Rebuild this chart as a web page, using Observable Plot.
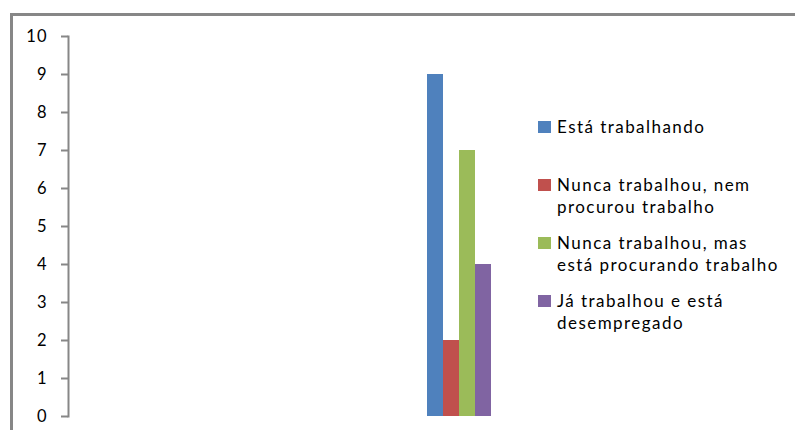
<!DOCTYPE html>
<html>
<head>
<meta charset="utf-8">
<script src="https://cdn.jsdelivr.net/npm/d3@7"></script>
<script src="https://cdn.jsdelivr.net/npm/@observablehq/plot@0.6"></script>
<style>
  body { margin: 0; background: #fff; }
  #wrap { position: relative; width: 795px; height: 430px; overflow: hidden; background: #fff; }
  #border { position: absolute; left: 10px; top: 13px; width: 900px; height: 500px; border-left: 3px solid #878787; border-top: 3px solid #878787; }
  #chart { position: absolute; left: 0; top: 0; }
  #legend { position: absolute; left: 0; top: 0; font-family: Lato, "Open Sans", sans-serif; font-size: 17px; color: #000; letter-spacing: 1.45px; }
  .item { position: absolute; left: 538px; line-height: 22px; white-space: nowrap; }
  .sw { position: absolute; left: 0; top: 5px; width: 13px; height: 12px; }
  .txt { position: absolute; left: 19px; top: 0; }
</style>
</head>
<body>
<div id="wrap">
  <div id="border"></div>
  <div id="chart"></div>
  <div id="legend"></div>
</div>
<script>
const series = ["Está trabalhando", "Nunca trabalhou, nem procurou trabalho", "Nunca trabalhou, mas está procurando trabalho", "Já trabalhou e está desempregado"];
const legendLines = [["Está trabalhando"], ["Nunca trabalhou, nem", "procurou trabalho"], ["Nunca trabalhou, mas", "está procurando trabalho"], ["Já trabalhou e está", "desempregado"]];
const values = [9, 2, 7, 4];
const colors = ["#4F81BD", "#C0504D", "#9BBB59", "#8064A2"];
const yTicks = [0, 1, 2, 3, 4, 5, 6, 7, 8, 9, 10];

const data = series.map((s, i) => ({series: s, value: values[i]}));

const chart = Plot.plot({
  width: 795,
  height: 430,
  marginLeft: 68,
  marginRight: 0,
  marginTop: 36,
  marginBottom: 14,
  style: {fontFamily: "Lato, 'Open Sans', sans-serif", fontSize: "16.5px", color: "#000", background: "transparent", letterSpacing: "1px"},
  x: {type: "band", domain: series, range: [427, 491], padding: 0, axis: null},
  y: {domain: [0, 10], ticks: yTicks},
  color: {domain: series, range: colors},
  marks: [
    Plot.barY(data, {x: "series", y: "value", fill: "series", inset: 0}),
    Plot.axisY({ticks: yTicks, tickSize: 7, tickPadding: 14, stroke: "#878787", strokeWidth: 2, fill: "#000", label: null}),
    Plot.frame({anchor: "left", stroke: "#878787", strokeWidth: 2})
  ]
});
document.getElementById("chart").appendChild(chart);

const legend = document.getElementById("legend");
const centers = [127, 185, 243, 301];
legendLines.forEach((lines, i) => {
  const item = document.createElement("div");
  item.className = "item";
  item.style.top = (centers[i] - 11) + "px";
  const sw = document.createElement("div");
  sw.className = "sw";
  sw.style.background = colors[i];
  const txt = document.createElement("div");
  txt.className = "txt";
  txt.innerHTML = lines.join("<br>");
  item.appendChild(sw);
  item.appendChild(txt);
  legend.appendChild(item);
});
</script>
</body>
</html>
